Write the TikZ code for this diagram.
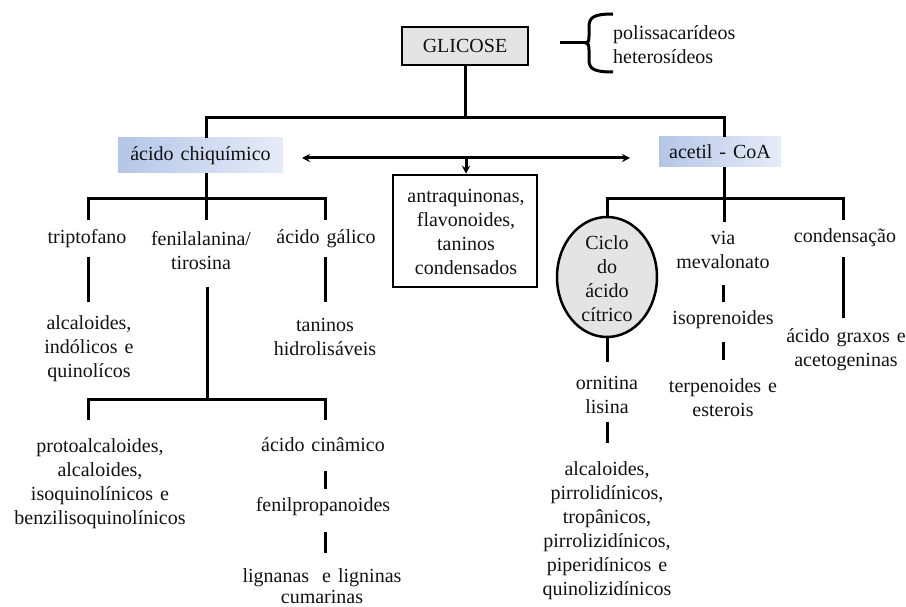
\documentclass[tikz,border=0pt]{standalone}
\usepackage{fontspec}
\setmainfont{Liberation Serif}[WordSpace=1.4]
\usetikzlibrary{arrows.meta,shapes.geometric}
\definecolor{boxL}{HTML}{B4C6E7}
\definecolor{boxR}{HTML}{E6ECF8}
\definecolor{grayfill}{HTML}{E4E4E4}
\definecolor{ink}{HTML}{111111}
\begin{document}
\begin{tikzpicture}[x=1pt,y=-1pt,
  lbl/.style={font=\fontsize{20}{24}\selectfont, align=center, inner sep=0pt, text=ink},
  conn/.style={line width=3pt, draw=black},
  framebox/.style={draw=black, line width=2.5pt, inner sep=0pt},
  bluebox/.style={left color=boxL, right color=boxR, inner sep=0pt},
  tip/.style={-{Stealth[length=8pt,width=8pt]}},
  dtip/.style={{Stealth[length=8pt,width=8pt]}-{Stealth[length=8pt,width=8pt]}}]
\useasboundingbox (0,0) rectangle (906,607);

% ---------- top ----------
\node[framebox, fill=grayfill, minimum width=126pt, minimum height=38pt, lbl] (glic) at (465,46) {GLICOSE};
\node[lbl, align=left, anchor=west] (poly) at (613,45) {polissacarídeos\\heterosídeos};
\coordinate (brTip) at (560,43);
\coordinate (brMid) at (586,43);
\coordinate (brTop) at (613,14);
\coordinate (brBot) at (613,72);
\draw[line width=3pt] (brTip) -- (brMid);
\draw[line width=3pt] (brTop) .. controls (594,14) and (589,17) .. (589,27) -- (589,36)
   .. controls (589,41) and (588,43) .. (brMid)
   .. controls (588,43) and (589,45) .. (589,50) -- (589,60)
   .. controls (589,69) and (594,72) .. (brBot);

\node[bluebox, minimum width=165pt, minimum height=35pt, lbl] (chiq) at (200.5,155.5) {ácido chiquímico};
\node[bluebox, minimum width=122pt, minimum height=30pt, lbl] (acet) at (720,152) {acetil - CoA};
\node[framebox, minimum width=144pt, minimum height=112pt] (cbox) at (465,231) {};
\node[lbl] (ctext) at (466,232) {antraquinonas,\\flavonoides,\\taninos\\condensados};

\coordinate (tg) at (465,118);
\coordinate (tl) at (206,118);
\coordinate (tr) at (724,118);
\draw[conn] (glic.south) -- (tg);
\draw[conn] (chiq.north -| tl) -- (tl) -- (tr) -- (acet.north -| tr);

\coordinate (al) at (302,158);
\coordinate (ar) at (630,158);
\coordinate (am) at (466,158);
\draw[line width=3pt, dtip] (al) -- (ar);
\draw[line width=3pt, tip] (am) -- (cbox.north -| am);

% ---------- left subtree ----------
\coordinate (l1) at (88,220);
\coordinate (l2) at (88,199);
\coordinate (l3) at (325,199);
\coordinate (l4) at (325,220);
\coordinate (lm) at (206,220);
\draw[conn] (chiq.south -| lm) -- (lm);
\draw[conn] (l1) -- (l2) -- (l3) -- (l4);

\node[lbl] (trip) at (87,239) {triptofano};
\node[lbl] (feni) at (201,251) {fenilalanina/\\tirosina};
\node[lbl] (gal) at (326,239) {ácido gálico};

\coordinate (v1a) at (88,257);  \coordinate (v1b) at (88,302);
\coordinate (v2a) at (325,257); \coordinate (v2b) at (325,302);
\draw[conn] (v1a) -- (v1b);
\draw[conn] (v2a) -- (v2b);

\node[lbl] (alcind) at (89,349) {alcaloides,\\indólicos e\\quinolícos};
\node[lbl] (tanh) at (325,337) {taninos\\hidrolisáveis};

\coordinate (f1) at (207,287);
\coordinate (f2) at (207,399);
\coordinate (b1) at (88,420);
\coordinate (b2) at (88,399);
\coordinate (b3) at (325,399);
\coordinate (b4) at (325,420);
\draw[conn] (f1) -- (f2);
\draw[conn] (b1) -- (b2) -- (b3) -- (b4);

\node[lbl] (proto) at (100,484) {protoalcaloides,\\alcaloides,\\isoquinolínicos e\\benzilisoquinolínicos};
\node[lbl] (cina) at (323,445) {ácido cinâmico};
\node[lbl] (fenp) at (323,507) {fenilpropanoides};
\node[lbl, font=\fontsize{20}{21}\selectfont] (lign) at (322,586) {lignanas\hspace{0.3em} e ligninas\\cumarinas};
\coordinate (c1) at (325,471); \coordinate (c2) at (325,489);
\coordinate (c3) at (325,532); \coordinate (c4) at (325,553);
\draw[conn] (c1) -- (c2);
\draw[conn] (c3) -- (c4);

% ---------- right subtree ----------
\coordinate (rm) at (724,222);
\draw[conn] (acet.south -| rm) -- (rm);
\node[framebox, ellipse, fill=grayfill, minimum width=100pt, minimum height=120pt] (ciclo) at (607,277) {};
\node[lbl] (ciclotext) at (607,279) {Ciclo\\do\\ácido\\cítrico};
\coordinate (r2) at (607,199);
\coordinate (r3) at (843,199);
\coordinate (r4) at (843,220);
\draw[conn] (ciclo.north) -- (r2) -- (r3) -- (r4);

\node[lbl] (via) at (723,250) {via\\mevalonato};
\node[lbl] (condn) at (845,238) {condensação};
\node[lbl] (isop) at (723,320) {isoprenoides};
\node[lbl] (terp) at (723,397.5) {terpenoides e\\esterois};
\node[lbl] (graxo) at (846,350) {ácido graxos e\\acetogeninas};
\node[lbl] (orn) at (607,395) {ornitina\\lisina};
\node[lbl] (alcp) at (607,530.5) {alcaloides,\\pirrolidínicos,\\tropânicos,\\pirrolizidínicos,\\piperidínicos e\\quinolizidínicos};

\coordinate (e1) at (607,362);
\draw[conn] (ciclo.south) -- (e1);
\coordinate (e2) at (607,422); \coordinate (e3) at (607,443);
\draw[conn] (e2) -- (e3);
\coordinate (m1) at (723,285); \coordinate (m2) at (723,302);
\coordinate (m3) at (723,342); \coordinate (m4) at (723,360);
\draw[conn] (m1) -- (m2);
\draw[conn] (m3) -- (m4);
\coordinate (k1) at (843,257); \coordinate (k2) at (843,318);
\draw[conn] (k1) -- (k2);
\end{tikzpicture}
\end{document}
